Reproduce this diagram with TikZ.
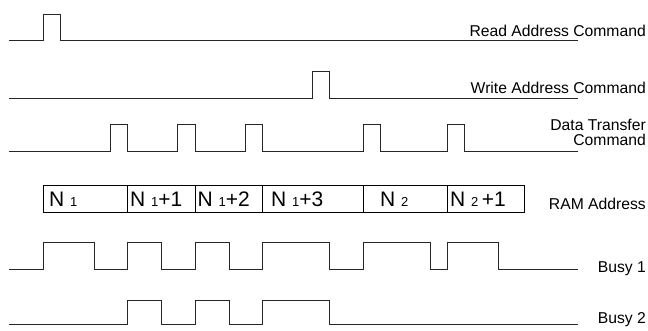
\documentclass[tikz,border=0pt]{standalone}
\usepackage{fontspec}
\setmainfont{Liberation Sans}
\begin{document}
\begin{tikzpicture}[x=1pt,y=-1pt]
\newcommand{\lblsize}{\fontsize{15.7}{15}\selectfont}
\newcommand{\addrsize}{\fontsize{21}{23}\selectfont}
\newcommand{\ix}[1]{\ {\fontsize{13}{13}\selectfont #1}}
\tikzstyle{wave}=[line width=0.9pt,black!85,line join=miter]
\tikzstyle{cell}=[draw,line width=0.9pt,rectangle,minimum height=27.3pt,inner sep=0pt]
\tikzstyle{addr}=[anchor=base west,inner sep=0pt,font=\addrsize]
\tikzstyle{siglabel}=[anchor=base east,inner sep=0pt,font=\lblsize]
\useasboundingbox (0,0) rectangle (648,331);
\draw[wave] (9,40.3) -- (43,40.3) -- (43,14) -- (60,14) -- (60,40.3) -- (578,40.3);
\draw[wave] (9,98) -- (312,98) -- (312,71) -- (329.7,71) -- (329.7,98) -- (578,98);
\draw[wave] (9,151) -- (110.5,151) -- (110.5,124.3) -- (127.3,124.3) -- (127.3,151)
  -- (177.5,151) -- (177.5,124.3) -- (195,124.3) -- (195,151)
  -- (245,151) -- (245,124.3) -- (262.5,124.3) -- (262.5,151)
  -- (363,151) -- (363,124.3) -- (380.3,124.3) -- (380.3,151)
  -- (447.7,151) -- (447.7,124.3) -- (464.3,124.3) -- (464.3,151) -- (578,151);
\draw[wave] (9,269) -- (43,269) -- (43,242) -- (94,242) -- (94,269)
  -- (127.3,269) -- (127.3,242) -- (161.3,242) -- (161.3,269)
  -- (195,269) -- (195,242) -- (229,242) -- (229,269)
  -- (262.7,269) -- (262.7,242) -- (329.7,242) -- (329.7,269)
  -- (363.3,269) -- (363.3,242) -- (430.7,242) -- (430.7,269)
  -- (447.7,269) -- (447.7,242) -- (498,242) -- (498,269) -- (578,269);
\draw[wave] (9,324) -- (127.3,324) -- (127.3,300) -- (161.3,300) -- (161.3,324)
  -- (195,324) -- (195,300) -- (229,300) -- (229,324)
  -- (262.7,324) -- (262.7,300) -- (329.7,300) -- (329.7,324) -- (578,324);
\node[cell,minimum width=84.5pt] (c1) at (85.25,198.65) {};
\node[cell,minimum width=67.5pt] (c2) at (161.25,198.65) {};
\node[cell,minimum width=67.5pt] (c3) at (228.75,198.65) {};
\node[cell,minimum width=100.5pt] (c4) at (312.75,198.65) {};
\node[cell,minimum width=84.5pt] (c5) at (405.25,198.65) {};
\node[cell,minimum width=76.8pt] (c6) at (485.9,198.65) {};
\node[addr] (n1) at (49,206.7) {N\ix{1}};
\node[addr] (n2) at (130,206.7) {N\ix{1}+1};
\node[addr] (n3) at (197.5,206.7) {N\ix{1}+2};
\node[addr] (n4) at (271,206.7) {N\ix{1}+3};
\node[addr] (n5) at (380,206.7) {N\ix{2}};
\node[addr] (n6) at (450,206.7) {N\ix{2}\,+1};
\node[siglabel] (read) at (646,36.7) {Read Address Command};
\node[siglabel] (write) at (646,94) {Write Address Command};
\node[siglabel,align=right] (data) at (646,145.7) {Data Transfer\\Command};
\node[siglabel] (ram) at (646,210) {RAM Address};
\node[siglabel] (busy1) at (646,272.7) {Busy 1};
\node[siglabel] (busy2) at (646,323.3) {Busy 2};
\end{tikzpicture}
\end{document}
